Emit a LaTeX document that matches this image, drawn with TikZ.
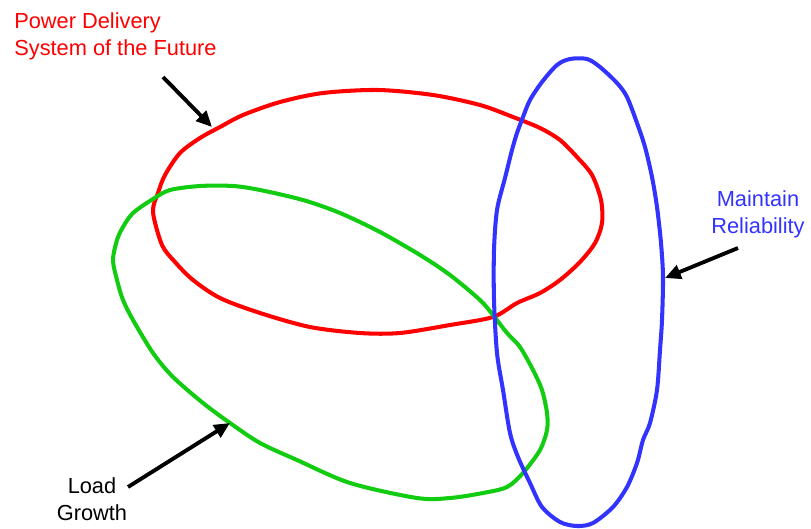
\documentclass[tikz,border=0pt]{standalone}
\usepackage{fontspec}
\setmainfont{Liberation Sans}
\usetikzlibrary{arrows.meta}
\definecolor{ringred}{RGB}{255,0,0}
\definecolor{ringblue}{RGB}{51,51,255}
\definecolor{ringgreen}{RGB}{17,204,17}
\tikzset{
    ring/.style={line width=2.3pt, line join=round},
    pointer/.style={line width=2.2pt, -{Triangle[length=9pt,width=8pt]}},
    tag/.style={inner sep=0pt, font=\fontsize{12.4}{15.3}\selectfont}
}

\begin{document}
\begin{tikzpicture}[x=0.02cm, y=-0.02cm]
    \useasboundingbox (0,0) rectangle (811,528);

    %mark arrow ends
        \coordinate (pdtail) at (163,77);
        \coordinate (pdtip) at (212,127);
        \coordinate (reltail) at (738,248);
        \coordinate (reltip) at (665,278);
        \coordinate (loadtail) at (128,487);
        \coordinate (loadtip) at (230,423);

    %draw the three loops
        \draw[ring, ringred] plot[smooth cycle] coordinates {
            (153,212) (158,193) (165,175) (180,153) (200,138) (220,127) (243,115)
            (280,102) (323,93) (378,90) (433,95) (480,105) (513,117) (540,128)
            (560,140) (577,157) (592,175) (601,200) (602,223) (595,243) (580,262)
            (560,280) (540,293) (517,303) (493,317) (450,325) (400,333) (360,333)
            (310,327) (260,313) (220,298) (193,280) (175,262) (162,245)};
        \draw[ring, ringgreen] plot[smooth cycle] coordinates {
            (233,186) (260,190) (303,200) (340,213) (380,232) (420,255) (450,275)
            (480,300) (493,315) (507,333) (520,347) (533,370) (542,390) (547,413)
            (547,430) (540,450) (523,473) (507,487) (483,493) (450,498) (417,498)
            (350,483) (297,460) (260,443) (230,423) (203,403) (173,377) (153,353)
            (133,320) (123,300) (117,280) (113,260) (117,240) (123,227) (133,213)
            (153,199) (170,190) (200,186)};
        \draw[ring, ringblue] plot[smooth cycle] coordinates {
            (570,59) (587,59) (600,67) (617,83) (627,97) (637,123) (645,147)
            (652,177) (657,207) (661,243) (663,277) (662,320) (660,350) (657,390)
            (650,423) (643,440) (637,463) (627,487) (613,507) (593,523) (577,526)
            (560,522) (542,507) (530,483) (518,457) (510,433) (503,390) (497,353)
            (494,300) (494,250) (497,210) (505,178) (512,150) (517,133) (523,117)
            (530,100) (542,82) (557,65)};

    %labels and arrows
        \node[tag, text=ringred, align=left, anchor=north west] (pds) at (14,12) {Power Delivery\\System of the Future};
        \node[tag, text=ringblue, align=center, anchor=north] (rel) at (758,190) {Maintain\\Reliability};
        \node[tag, align=center, anchor=north] (load) at (92,477) {Load\\Growth};
        \draw[pointer] (pdtail) -- (pdtip);
        \draw[pointer] (reltail) -- (reltip);
        \draw[pointer] (loadtail) -- (loadtip);

\end{tikzpicture}
\end{document}
